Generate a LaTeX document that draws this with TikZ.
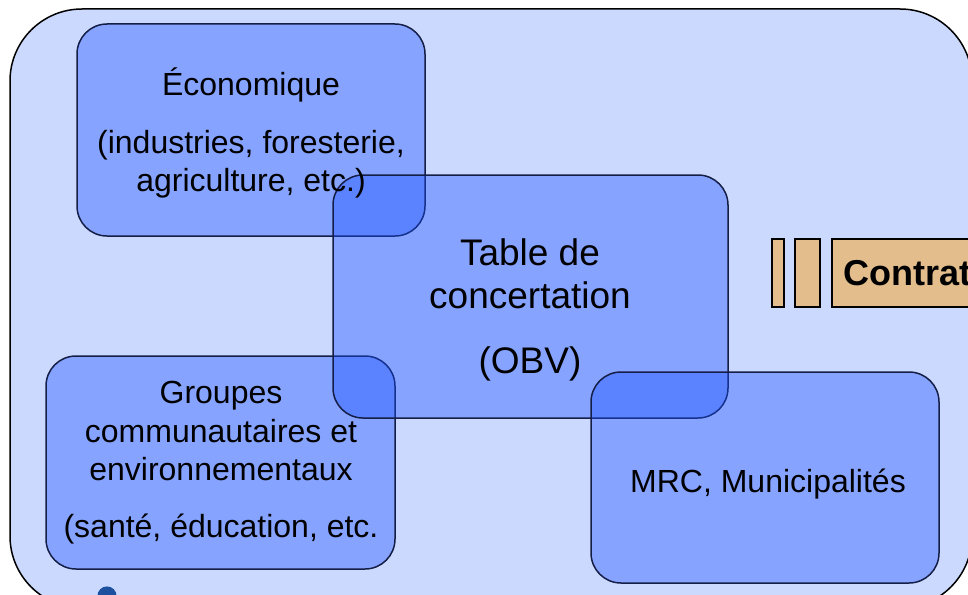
\documentclass[tikz,border=0pt]{standalone}
\usepackage{fontspec}
\setmainfont{Liberation Sans}

\definecolor{fondbleu}{RGB}{204,217,255}
\definecolor{bleuboite}{RGB}{24,80,255}
\definecolor{bordboite}{RGB}{20,30,70}
\definecolor{beige}{RGB}{227,190,140}
\definecolor{goutte}{RGB}{30,80,160}

\tikzset{
	boite/.style={rectangle,rounded corners=30pt,fill=bleuboite,fill opacity=0.39,draw=bordboite,line width=1.5pt},
	texte/.style={anchor=base,inner sep=0pt,font=\fontsize{32}{38}\selectfont},
	barre/.style={rectangle,fill=beige,draw=black,line width=1.5pt,minimum height=68pt,inner sep=0pt}
}

\begin{document}
\begin{tikzpicture}[x=1pt,y=-1pt]
\useasboundingbox (0,0) rectangle (968,594);
\clip (0,0) rectangle (968,594);
\draw[fill=fondbleu,line width=1.5pt,rounded corners=72pt] (10,9) rectangle (972,608);
\fill[goutte] (107,596) circle (9.6pt);
\node[boite,minimum width=348pt,minimum height=212pt] (eco) at (251,130){};
\node[boite,minimum width=349pt,minimum height=213pt] (groupes) at (220.5,462.5){};
\node[boite,minimum width=395pt,minimum height=243pt] (table) at (530.5,296.5){};
\node[boite,minimum width=348pt,minimum height=211pt] (mrc) at (765,477.5){};
\node[barre,minimum width=12pt] (b1) at (778,273){};
\node[barre,minimum width=25pt] (b2) at (807.5,273){};
\node[barre,anchor=west,inner xsep=12pt,text width=200pt,align=left,font=\bfseries\fontsize{36}{40}\selectfont] (contrat) at (831,273){Contrat};
\node[texte] (eco1) at (251,95){Économique};
\node[texte] (eco2) at (251,153){(industries, foresterie,};
\node[texte] (eco3) at (251,191){agriculture, etc.)};
\node[texte,font=\fontsize{37}{43}\selectfont] (table1) at (530,265){Table de};
\node[texte,font=\fontsize{37}{43}\selectfont] (table2) at (530,308){concertation};
\node[texte,font=\fontsize{37}{43}\selectfont] (table3) at (530,373){(OBV)};
\node[texte] (grp1) at (221,403){Groupes};
\node[texte] (grp2) at (221,442){communautaires et};
\node[texte] (grp3) at (221,480){environnementaux};
\node[texte] (grp4) at (221,537){(santé, éducation, etc.};
\node[texte] (mrc1) at (768,492){MRC, Municipalités};
\end{tikzpicture}
\end{document}
